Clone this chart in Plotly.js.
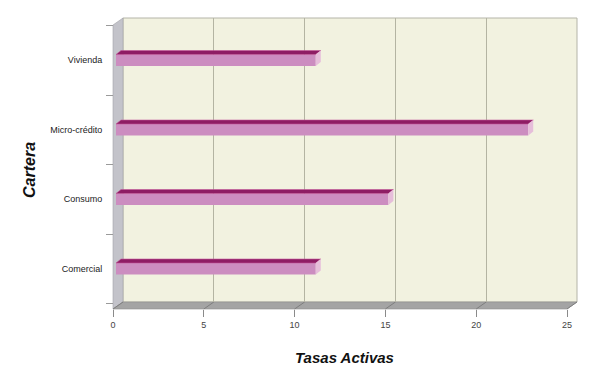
<!DOCTYPE html>
<html>
<head>
<meta charset="utf-8">
<script src="https://cdn.plot.ly/plotly-3.0.1.min.js"></script>
<style>html,body{margin:0;padding:0;background:#fff;}#chart{width:599px;height:366px;}</style>
</head>
<body>
<div id="chart"></div>
<script>
// ---- data ----
const categories = ['Comercial', 'Consumo', 'Micro-crédito', 'Vivienda'];
const values = [11.0, 15.0, 22.7, 11.0];
const xTicks = [0, 5, 10, 15, 20, 25];
const xTitle = 'Tasas Activas';
const yTitle = 'Cartera';

// ---- geometry helpers (pixels -> paper) ----
const W = 599, H = 366;
const px = x => x / W;
const py = y => 1 - y / H;

const FRONT_L = 113, FRONT_R = 567, FRONT_B = 309;
const BACK_L = 123, BACK_R = 577, BACK_T = 18, BACK_B = 302;
const Y_TOP = 25.5, Y_BOT = 303.5;
const pxPerUnit = (FRONT_R - FRONT_L) / 25;
const barW = 0.165;
const dxU = 5 / pxPerUnit;                 // depth offset in x units
const dyU = 4 / ((Y_BOT - Y_TOP) / 4);     // depth offset in y units

const yPos = categories.map((c, i) => i);

const traces = [];
traces.push({
  type: 'bar', orientation: 'h', x: values, y: yPos, width: barW,
  marker: {color: '#CC8DC0', line: {width: 0}},
  xaxis: 'x3', yaxis: 'y', hoverinfo: 'x+y'
});
values.forEach((v, i) => {
  const yt = yPos[i] + barW / 2;
  const yb = yPos[i] - barW / 2;
  // top face
  traces.push({
    type: 'scatter', mode: 'lines', fill: 'toself', fillcolor: '#8E1D64',
    line: {width: 0.6, color: '#C2559A'},
    x: [0, v, v + dxU, dxU, 0], y: [yt, yt, yt + dyU, yt + dyU, yt],
    xaxis: 'x3', yaxis: 'y', hoverinfo: 'skip'
  });
  // side face
  traces.push({
    type: 'scatter', mode: 'lines', fill: 'toself', fillcolor: '#E6BEDA',
    line: {width: 0},
    x: [v, v + dxU, v + dxU, v, v], y: [yb, yb + dyU, yt + dyU, yt, yb],
    xaxis: 'x3', yaxis: 'y', hoverinfo: 'skip'
  });
});
// dummy traces so every axis pair exists
traces.push({type: 'scatter', x: [], y: [], xaxis: 'x2', yaxis: 'y2', hoverinfo: 'skip'});
traces.push({type: 'scatter', x: [], y: [], xaxis: 'x', yaxis: 'y3', hoverinfo: 'skip'});

// ---- decoration shapes (walls / floor) ----
const P = (x, y) => px(x) + ',' + py(y);
const shapes = [
  {type: 'rect', xref: 'paper', yref: 'paper', x0: px(BACK_L), x1: px(BACK_R), y0: py(BACK_B), y1: py(BACK_T),
   fillcolor: '#F2F2E0', line: {color: '#B4B4A8', width: 1}, layer: 'below'},
  {type: 'path', xref: 'paper', yref: 'paper',
   path: 'M' + P(FRONT_L, 25) + 'L' + P(BACK_L, BACK_T) + 'L' + P(BACK_L, BACK_B) + 'L' + P(FRONT_L, FRONT_B) + 'Z',
   fillcolor: '#C3C3CA', line: {color: '#A2A2A8', width: 0.6}, layer: 'below'},
  {type: 'path', xref: 'paper', yref: 'paper',
   path: 'M' + P(FRONT_L, FRONT_B) + 'L' + P(BACK_L, BACK_B) + 'L' + P(BACK_R, BACK_B) + 'L' + P(FRONT_R, FRONT_B) + 'Z',
   fillcolor: '#A4A4A4', line: {color: '#8E8E8E', width: 0.6}, layer: 'below'}
];
xTicks.forEach(t => {
  shapes.push({type: 'line', xref: 'paper', yref: 'paper',
    x0: px(FRONT_L + t * pxPerUnit), y0: py(FRONT_B), x1: px(BACK_L + t * pxPerUnit), y1: py(BACK_B),
    line: {color: '#7E7E7E', width: 1}, layer: 'below'});
});

const layout = {
  width: W, height: H, margin: {l: 0, r: 0, t: 0, b: 0},
  paper_bgcolor: '#ffffff', plot_bgcolor: 'rgba(0,0,0,0)', showlegend: false,
  font: {family: 'Liberation Sans, Arial, sans-serif', size: 9, color: '#333'},
  xaxis: {domain: [px(FRONT_L), px(FRONT_R)], range: [0, 25], anchor: 'free', position: py(FRONT_B),
    tickvals: xTicks, ticks: 'outside', ticklen: 7, tickcolor: '#8a8a8a', showgrid: false,
    zeroline: false, showline: false, tickfont: {size: 9, color: '#444'}},
  xaxis2: {domain: [px(BACK_L), px(BACK_R)], range: [0, 25], anchor: 'y2', tickvals: xTicks,
    showgrid: true, gridcolor: '#B4B4A2', gridwidth: 1, showticklabels: false, ticks: '',
    zeroline: false, showline: false},
  yaxis2: {domain: [py(BACK_B), py(BACK_T)], range: [0, 1], anchor: 'x2', showgrid: false,
    showticklabels: false, zeroline: false, showline: false, ticks: ''},
  xaxis3: {domain: [px(116), px(570)], range: [0, 25], anchor: 'y', visible: false},
  yaxis: {domain: [py(Y_BOT), py(Y_TOP)], range: [-0.5, 3.5], anchor: 'free', position: px(FRONT_L),
    tickvals: yPos, ticktext: categories, ticks: 'outside', ticklen: 9, tickcolor: 'rgba(0,0,0,0)',
    showgrid: false, zeroline: false, showline: false, tickfont: {size: 9, color: '#222'}},
  yaxis3: {overlaying: 'y', range: [-0.5, 3.5], anchor: 'free', position: px(FRONT_L),
    tickvals: [-0.5, 0.5, 1.5, 2.5, 3.5], ticks: 'outside', ticklen: 7, tickcolor: '#9a9a9a',
    showticklabels: false, showgrid: false, zeroline: false, showline: false},
  shapes: shapes,
  annotations: [
    {text: '<b><i>' + xTitle + '</i></b>', xref: 'paper', yref: 'paper', x: px(344), y: py(357),
     xanchor: 'center', yanchor: 'middle',
     showarrow: false, font: {family: 'Liberation Sans, Arial, sans-serif', size: 15, color: '#111'}},
    {text: '<b><i>' + yTitle + '</i></b>', xref: 'paper', yref: 'paper', x: px(29), y: py(170),
     xanchor: 'center', yanchor: 'middle',
     textangle: -90, showarrow: false, font: {family: 'Liberation Sans, Arial, sans-serif', size: 16, color: '#111'}}
  ]
};

Plotly.newPlot('chart', traces, layout, {staticPlot: true, displayModeBar: false});
</script>
</body>
</html>
